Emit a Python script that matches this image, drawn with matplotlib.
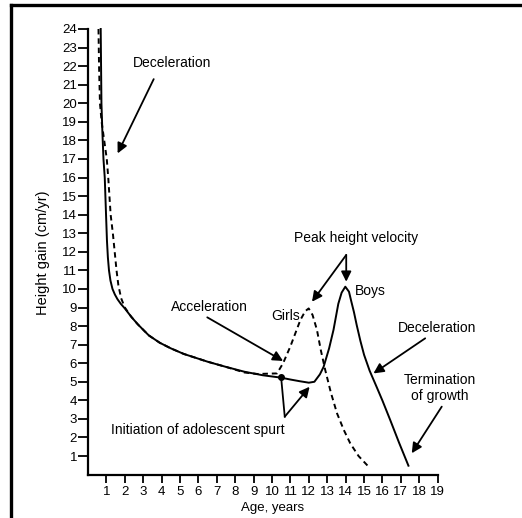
import matplotlib
matplotlib.use("Agg")
import matplotlib.pyplot as plt
from matplotlib.lines import Line2D

plt.rcParams['font.family'] = ['Liberation Sans', 'DejaVu Sans']

# boys velocity curve (solid)
boys_age = [0.69, 0.71, 0.73, 0.78, 0.84, 0.91, 0.98, 1.03, 1.08, 1.14, 1.22, 1.33,
            1.46, 1.6, 1.78, 2.0, 2.35, 2.7, 3.3, 3.9, 4.5, 5.2, 6.5, 7.5, 8.5,
            9.5, 10.5, 11.0, 11.5, 12.0, 12.3, 12.6, 12.8, 13.1, 13.34, 13.6,
            13.78, 13.98, 14.18, 14.3, 14.45, 14.6, 14.8, 15.0, 15.3, 15.7, 16.0,
            16.42, 16.9, 17.41]
boys_gain = [24.0, 22.0, 20.0, 18.5, 17.0, 16.0, 14.0, 12.6, 11.7, 11.0, 10.45, 10.0,
             9.7, 9.45, 9.2, 8.95, 8.5, 8.1, 7.5, 7.1, 6.8, 6.5, 6.08, 5.8, 5.54,
             5.35, 5.22, 5.12, 5.03, 4.95, 5.0, 5.4, 5.8, 6.8, 7.8, 9.2,
             9.8, 10.12, 9.85, 9.35, 8.75, 8.05, 7.2, 6.45, 5.6, 4.68, 3.98,
             2.94, 1.72, 0.48]

# girls velocity curve (dashed)
girls_age = [0.57, 0.6, 0.65, 0.74, 0.88, 1.02, 1.1, 1.23, 1.35, 1.45, 1.55, 1.65,
             1.8, 2.0, 2.35, 2.7, 3.3, 3.9, 4.5, 5.2, 6.5, 7.5, 8.5, 9.2, 10.27,
             10.6, 10.99, 11.54, 11.8, 11.99, 12.2, 12.44, 12.65, 12.89, 13.2,
             13.53, 13.9, 14.25, 14.7, 15.24]
girls_gain = [24.0, 22.0, 20.0, 19.0, 18.0, 17.0, 16.0, 14.0, 13.0, 12.0, 11.0, 10.2,
              9.5, 9.0, 8.5, 8.1, 7.5, 7.1, 6.8, 6.5, 6.08, 5.8, 5.5, 5.42, 5.45,
              6.0, 6.89, 8.33, 8.8, 8.95, 8.6, 7.79, 6.7, 5.63, 4.4,
              3.3, 2.4, 1.68, 1.0, 0.43]

x_ticks = list(range(1, 20))
y_ticks = list(range(1, 25))

# text labels: (text, x, y)
labels = [
    ("Deceleration", 4.57, 22.16),
    ("Acceleration", 6.60, 9.04),
    ("Girls", 10.75, 8.54),
    ("Boys", 15.36, 9.90),
    ("Peak height velocity", 14.55, 12.72),
    ("Deceleration", 18.94, 7.88),
    ("Termination\nof growth", 19.13, 4.66),
    ("Initiation of adolescent spurt", 5.96, 2.40),
]

# arrows: (tail x, tail y, head x, head y)
arrows = [
    (3.57, 21.3, 1.61, 17.3),
    (6.48, 8.47, 10.6, 6.12),
    (14.03, 11.83, 12.17, 9.31),
    (14.03, 11.83, 14.03, 10.39),
    (18.32, 7.34, 15.51, 5.45),
    (19.22, 3.66, 17.59, 1.15),
    (10.69, 3.12, 12.04, 4.73),
]
spurt_line_x = [10.49, 10.69]
spurt_line_y = [5.27, 3.12]

fig = plt.figure(figsize=(5.22, 5.18), dpi=100)
ax = fig.add_axes([88/522, 43.4/518, 349.7/522, 445.6/518])

ax.plot(boys_age, boys_gain, color='black', lw=1.4, clip_on=False)
ax.plot(girls_age, girls_gain, color='black', lw=1.4, ls=(0, (2.8, 2)), clip_on=False)
ax.plot(spurt_line_x, spurt_line_y, color='black', lw=1.3)
ax.plot([spurt_line_x[0]], [spurt_line_y[0]], 'o', color='black', ms=4)

for t, x, y in labels:
    ax.text(x, y, t, ha='center', va='center', fontsize=10, linespacing=1.2,
            clip_on=False)

for x0, y0, x1, y1 in arrows:
    ax.annotate('', xy=(x1, y1), xytext=(x0, y0), annotation_clip=False,
                arrowprops=dict(arrowstyle='-|>', color='black', lw=1.3,
                                mutation_scale=15, shrinkA=0, shrinkB=0))

ax.set_xlim(0, 19)
ax.set_ylim(0, 24)
ax.set_xticks(x_ticks)
ax.set_yticks(y_ticks)
ax.tick_params(axis='y', length=7, width=1.3, pad=0.8, labelsize=9.5)
ax.tick_params(axis='x', length=5.5, width=1.3, pad=3, labelsize=9.5)
for s in ['top', 'right']:
    ax.spines[s].set_visible(False)
for s in ['left', 'bottom']:
    ax.spines[s].set_linewidth(1.6)

fig.text(273/522, 1 - 508/518, "Age, years", ha='center', va='center', fontsize=9.5)
fig.text(43/522, 1 - 253/518, "Height gain (cm/yr)", ha='center', va='center',
         rotation=90, fontsize=10.5)

# frame of the scanned page
fig.add_artist(Line2D([11/522, 1], [1 - 5/518, 1 - 5/518], color='black', lw=2.4,
                      transform=fig.transFigure))
fig.add_artist(Line2D([11/522, 11/522], [0, 1 - 5/518], color='black', lw=2.4,
                      transform=fig.transFigure))

fig.savefig("out.png", dpi=100)
